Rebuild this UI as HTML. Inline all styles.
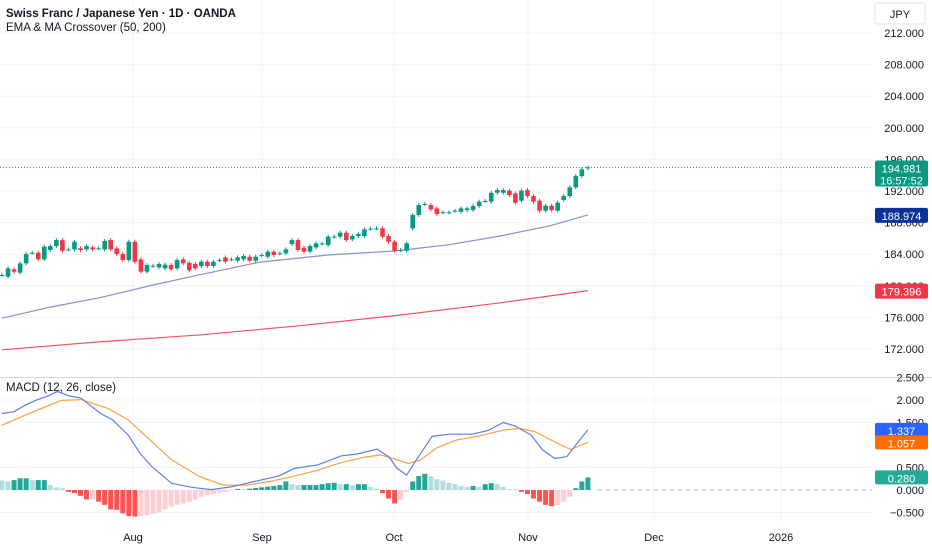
<!DOCTYPE html>
<html><head><meta charset="utf-8">
<style>
html,body{margin:0;padding:0;background:#fff;}
body{width:932px;height:550px;overflow:hidden;font-family:"Liberation Sans",sans-serif;}
svg{display:block}
</style></head>
<body>
<svg id="chart" width="932" height="550">
  <g id="grid"></g>
  <g id="marks"></g>
  <g id="axis"></g>
  <text x="6" y="17" font-size="11.5" font-weight="bold" fill="#131722">Swiss Franc / Japanese Yen · 1D · OANDA</text>
  <text x="6" y="31" font-size="11.5" fill="#131722">EMA &amp; MA Crossover (50, 200)</text>
  <text x="6" y="391" font-size="11.5" fill="#131722">MACD (12, 26, close)</text>
  <rect x="875" y="3" width="50" height="21" rx="2" fill="#fff" stroke="#e0e3eb"/>
  <text x="900" y="18" font-size="11" text-anchor="middle" fill="#131722">JPY</text>
</svg>
<script>
const opens=[181.36,181.15,182.08,181.66,182.84,184.19,184.19,183.35,184.53,185.03,185.79,184.61,184.61,184.74,184.61,184.87,184.74,184.61,185.79,184.74,184.02,183.26,185.58,183.35,181.79,182.54,182.33,182.21,182.63,182.21,183.35,182.92,182.76,182.50,183.05,182.50,183.26,183.60,183.35,183.18,183.35,183.68,183.18,183.89,183.68,184.32,184.11,184.11,185.29,185.79,184.82,184.32,184.87,185.37,185.16,186.22,186.22,186.72,185.88,186.30,186.30,187.23,187.27,187.27,186.30,185.58,184.53,184.44,187.27,188.96,190.35,190.22,189.80,189.30,189.30,189.51,189.38,189.59,189.59,190.10,190.73,190.65,191.78,191.78,192.04,191.70,190.77,192.12,191.36,190.77,189.51,190.14,189.51,190.86,191.36,192.46,193.89,194.87];
const closes=[181.36,182.21,181.79,182.84,184.02,184.19,183.35,184.95,185.03,185.79,184.44,184.61,185.58,184.53,185.03,184.61,184.74,185.67,184.61,184.02,183.26,185.58,183.05,181.79,182.63,182.54,182.76,182.67,182.08,183.26,182.84,181.96,182.21,183.05,182.50,183.05,183.26,183.05,183.35,183.60,183.77,183.18,183.68,183.89,184.32,183.89,184.11,184.61,185.79,184.53,184.32,185.03,185.37,185.37,186.22,186.22,186.72,185.79,186.30,186.55,187.14,187.23,187.27,186.22,185.58,184.44,184.53,185.37,188.96,190.22,190.35,189.68,189.08,189.30,189.30,189.51,189.80,189.80,190.10,190.65,190.73,191.78,192.12,192.12,191.49,190.52,192.04,191.36,190.65,189.51,190.14,189.59,190.52,191.36,192.46,193.89,194.74,194.981];
const emaIdx=[0,8,16.2,25,32.8,42.7,54,65,74,82.5,90.7,97];
const emaVal=[175.9,177.3,178.5,180.1,181.4,183.0,183.9,184.4,185.2,186.3,187.6,188.974];
const maIdx=[0,16,33,50,66,82,97];
const maVal=[171.9,172.9,173.8,175.0,176.3,177.8,179.396];
const histVals=[0.22,0.21,0.19,0.22,0.26,0.26,0.22,0.22,0.22,0.11,0.06,0.04,-0.04,-0.07,-0.13,-0.21,-0.21,-0.26,-0.33,-0.43,-0.44,-0.52,-0.58,-0.59,-0.58,-0.56,-0.53,-0.50,-0.43,-0.37,-0.33,-0.30,-0.26,-0.21,-0.16,-0.11,-0.09,-0.06,-0.04,-0.015,0.02,0.015,0.03,0.045,0.06,0.075,0.09,0.11,0.19,0.13,0.11,0.11,0.11,0.11,0.13,0.15,0.16,0.13,0.13,0.11,0.13,0.13,0.07,0.03,-0.07,-0.19,-0.30,-0.21,-0.04,0.19,0.31,0.36,0.30,0.24,0.21,0.16,0.13,0.09,0.07,0.09,0.07,0.13,0.15,0.13,0.07,0.02,0.015,-0.04,-0.09,-0.19,-0.26,-0.33,-0.36,-0.33,-0.26,-0.15,0.04,0.19,0.28];
const macdIdx=[0,2,3.9,5.9,7.2,9.2,11.1,13.1,16.3,18.3,20.9,22.9,24.8,28.1,31.4,34.6,37.9,41.8,45.8,48.4,52.3,56.2,58.8,62.1,64.1,65.4,67,68.6,71.2,73.9,77.8,80.4,83,85,87.6,89.5,91.5,93.5,95.4,97];
const macdVal=[1.70,1.74,1.89,2.01,2.07,2.19,2.09,2.04,1.70,1.56,1.22,0.81,0.52,0.15,0.06,0.01,0.07,0.19,0.31,0.48,0.56,0.76,0.80,0.91,0.73,0.48,0.33,0.67,1.19,1.24,1.24,1.32,1.50,1.42,1.22,0.89,0.70,0.74,1.07,1.337];
const sigIdx=[0,3.3,6.5,9.8,13.1,17.6,20.9,24.2,28.1,32.7,36.6,40.5,44.4,48.4,52.3,56.2,60.1,62.7,64.7,67.3,69.3,71.9,75.2,79.7,83,85.6,88.2,91.5,94.1,97];
const sigVal=[1.44,1.63,1.81,1.99,2.01,1.81,1.56,1.15,0.67,0.30,0.11,0.11,0.19,0.31,0.44,0.61,0.73,0.78,0.70,0.59,0.67,0.93,1.11,1.22,1.33,1.37,1.30,1.07,0.90,1.057];
const priceTicks=[212,208,204,200,196,192,188,184,180,176,172];
const macdTicks=[2.5,2.0,1.5,0.5,0.0,-0.5];
const months=["Aug","Sep","Oct","Nov","Dec","2026"];
const monthX=[133,262,394,528,654,781];

const NS="http://www.w3.org/2000/svg";
const xOf=i=>2+i*6.04;
const yP=p=>33+(212-p)*7.9;
const yM=m=>490-45*m;
const grid=document.getElementById('grid'),marks=document.getElementById('marks'),axis=document.getElementById('axis');
function mk(tag,attrs,parent){const e=document.createElementNS(NS,tag);for(const k in attrs)e.setAttribute(k,attrs[k]);parent.appendChild(e);return e;}

priceTicks.forEach(p=>{
  const l=mk('line',{x1:0,x2:872,y1:yP(p),y2:yP(p),stroke:'#f0f3fa'},grid);
  
  
  const t=mk('text',{x:924,y:yP(p)+4,'font-size':11,'text-anchor':'end',fill:'#131722'},axis);
  t.textContent=p.toFixed(3);
  
  
});
macdTicks.forEach(m=>{
  const l=mk('line',{x1:0,x2:872,y1:yM(m),y2:yM(m),stroke:'#f0f3fa'},grid);
  
  
  const t=mk('text',{x:924,y:yM(m)+4,'font-size':11,'text-anchor':'end',fill:'#131722'},axis);
  t.textContent=m.toFixed(3).replace('-','−');
  
  
});
months.forEach((m,i)=>{
  const l=mk('line',{x1:monthX[i],x2:monthX[i],y1:0,y2:522,stroke:'#f0f3fa'},grid);
  
  
  const t=mk('text',{x:monthX[i],y:541,'font-size':11,'text-anchor':'middle',fill:'#131722'},axis);
  t.textContent=m;
  
  
});
const sep=mk('line',{x1:0,x2:932,y1:377.5,y2:377.5,stroke:'#d1d4dc'},grid);



function lineFrom(idx,val,fn,color,name,parent){
  const d=idx.map((v,i)=>(i?'L':'M')+xOf(v).toFixed(1)+','+fn(val[i]).toFixed(1)).join(' ');
  const p=mk('path',{d:d,fill:'none',stroke:color,'stroke-width':1.2,'stroke-linejoin':'round'},parent);
  
  
}
lineFrom(maIdx,maVal,yP,'#f7525f','ma200-line',marks);
lineFrom(emaIdx,emaVal,yP,'#8a8fc9','ema50-line',marks);

const lp=mk('line',{x1:0,x2:872,y1:yP(closes[closes.length-1]),y2:yP(closes[closes.length-1]),stroke:'#26a69a','stroke-dasharray':'1 2'},marks);



opens.forEach((o,i)=>{
  const c=closes[i],x=xOf(i),up=c>=o,col=up?'#089981':'#f23645';
  const hi=Math.max(o,c)+0.25,lo=Math.min(o,c)-0.25;
  const w=mk('line',{x1:x,x2:x,y1:yP(hi),y2:yP(lo),stroke:col},marks);
  
  
  const top=yP(Math.max(o,c)),h=Math.max(1,yP(Math.min(o,c))-top);
  const b=mk('rect',{x:x-2.3,y:top,width:4.6,height:h,fill:col},marks);
  
  
});

const n=histVals.length;
const zl=mk('line',{x1:xOf(n-1)+4,x2:872,y1:yM(0),y2:yM(0),stroke:'#b2b5be','stroke-dasharray':'4 4'},marks);


histVals.forEach((v,i)=>{
  const prev=i?histVals[i-1]:v;
  let col;
  if(v>=0) col=v>=prev?'#26a69a':'#b2dfdb'; else col=v<prev?'#ff5252':'#ffcdd2';
  const x=xOf(97-(n-1-i));
  const y0=yM(Math.max(v,0)),h=Math.abs(yM(v)-yM(0));
  const r=mk('rect',{x:x-2.5,y:y0,width:5,height:Math.max(h,0.8),fill:col},marks);
  
  
});
lineFrom(sigIdx,sigVal,yM,'#ff9f43','signal-line',marks);
lineFrom(macdIdx,macdVal,yM,'#5b7fe6','macd-line',marks);

function tag(y,h,bg,lines,name){
  const r=mk('rect',{x:875,y:y,width:53,height:h,rx:2,fill:bg},axis);
  
  
  lines.forEach((s,k)=>{
    const t=mk('text',{x:901.5,y:y+12+k*12,'font-size':11,'text-anchor':'middle',fill:'#fff'},axis);
    t.textContent=s;
    
    
  });
}
tag(yP(closes[closes.length-1])-7,26,'#089981',[closes[closes.length-1].toFixed(3),'16:57:52'],'last-price-tag');
tag(yP(emaVal[emaVal.length-1])-7,15,'#0c3299',[emaVal[emaVal.length-1].toFixed(3)],'ema50-tag');
tag(yP(maVal[maVal.length-1])-7,15,'#f23645',[maVal[maVal.length-1].toFixed(3)],'ma200-tag');
tag(yM(macdVal[macdVal.length-1])-7,14,'#2962ff',[macdVal[macdVal.length-1].toFixed(3)],'macd-tag');
tag(yM(sigVal[sigVal.length-1])-7,14,'#ff6d00',[sigVal[sigVal.length-1].toFixed(3)],'signal-tag');
tag(yM(histVals[n-1])-7,14,'#22ab94',[histVals[n-1].toFixed(3)],'histogram-tag');
</script>
</body></html>
